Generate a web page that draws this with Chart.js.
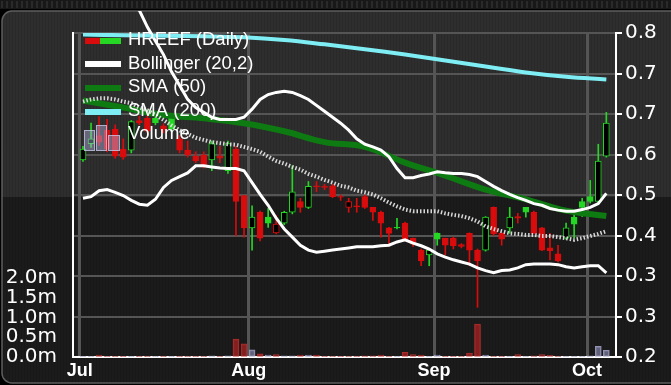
<!DOCTYPE html>
<html>
<head>
<meta charset="utf-8">
<script src="https://cdn.jsdelivr.net/npm/chart.js@4.4.1/dist/chart.umd.min.js"></script>
<style>
html,body{margin:0;padding:0;background:#000;overflow:hidden}
canvas{display:block}
</style>
</head>
<body>
<canvas id="c" width="671" height="385"></canvas>
<script>
// trading day index, month ticks
const monthLabels = ['Jul','Aug','Sep','Oct'];
const monthStarts = [0,21,44,63];
const priceTickValues = [0.2,0.275,0.35,0.425,0.5,0.575,0.65,0.725,0.8];
const priceTickLabels = ['0.2','0.3','0.3','0.4','0.5','0.6','0.7','0.7','0.8'];
const volTickValues = [0,0.5,1,1.5,2];
const volTickLabels = ['0.0m','0.5m','1.0m','1.5m','2.0m'];

// HREEF daily OHLC
const opens  = [.565,.595,.610,.620,.622,.585,.583,.638,.642,.642, .628,.644,.604,.583,.572,.574,.565,.572,.545,.585,
                .499,.439,.468,.459,.430,.448,.468,.488,.477,.517, .516,.517,.497,.477,.480,.497,.477,.468,.439,.440,
                .448,.420,.398,.389,.429,.420,.420,.408,.429,.398, .398,.477,.429,.439,.460,.477,.468,.439,.402,.391,
                .420,.459,.488,.497,.488,.572];
const highs  = [.590,.633,.645,.640,.630,.604,.638,.646,.646,.645, .632,.648,.610,.600,.580,.580,.600,.590,.600,.590,
                .500,.480,.470,.475,.462,.470,.554,.494,.525,.525, .520,.520,.500,.494,.494,.500,.477,.470,.440,.457,
                .450,.420,.400,.400,.430,.420,.422,.410,.430,.400, .460,.478,.430,.477,.466,.477,.470,.440,.429,.407,
                .448,.470,.494,.527,.594,.653];
const lows   = [.562,.588,.592,.580,.568,.566,.578,.630,.615,.630, .615,.618,.578,.570,.560,.550,.545,.560,.540,.424,
                .422,.398,.415,.440,.428,.445,.465,.468,.475,.506, .510,.495,.490,.468,.468,.475,.453,.422,.409,.437,
                .415,.405,.369,.369,.407,.389,.400,.402,.369,.292, .396,.425,.407,.429,.448,.459,.428,.397,.380,.376,
                .418,.420,.460,.485,.485,.570];
const closes = [.585,.604,.598,.585,.572,.570,.636,.634,.618,.634, .620,.622,.583,.574,.563,.556,.595,.568,.595,.488,
                .439,.459,.420,.448,.446,.468,.506,.477,.516,.515, .514,.497,.496,.488,.478,.477,.468,.448,.429,.439,
                .417,.409,.378,.398,.418,.407,.406,.405,.398,.378, .459,.428,.418,.459,.457,.468,.429,.398,.397,.378,
                .439,.446,.477,.488,.563,.633];
// volume in millions
const volumes = [.02,.02,.05,.02,.02,.02,.02,.02,.02,.02, .02,.02,.02,.02,.02,.02,.03,.02,.03,.45,
                 .33,.18,.08,.05,.06,.03,.03,.05,.05,.05, .02,.02,.02,.02,.02,.03,.03,.05,.02,.02,
                 .12,.06,.05,.02,.05,.01,.01,.01,.10,.83, .05,.02,.02,.02,.06,.02,.03,.06,.04,.02,
                 .02,.02,.02,.03,.27,.17];

// Bollinger (20,2)
const bollUpper = [.85,.86,.86,.85,.85,.85,.85,.842,.811,.785, .760,.728,.703,.677,.662,.653,.644,.640,.640,.640,
                   .644,.659,.677,.686,.690,.692,.690,.684,.677,.666, .655,.644,.633,.620,.604,.594,.589,.583,.571,.549,
                   .532,.532,.536,.539,.543,.541,.540,.540,.538,.534, .525,.516,.508,.501,.495,.490,.484,.481,.475,.472,
                   .470,.470,.473,.477,.484,.503];
const bollMid   = [.673,.677,.679,.679,.677,.673,.670,.662,.657,.648, .639,.629,.620,.613,.606,.602,.598,.596,.594,.593,
                   .589,.585,.580,.571,.563,.558,.552,.547,.539,.534, .528,.523,.517,.514,.508,.505,.501,.494,.486,.479,
                   .473,.470,.470,.470,.470,.466,.463,.461,.457,.451, .442,.437,.433,.429,.428,.426,.426,.424,.424,.422,
                   .420,.417,.420,.424,.428,.433];
const bollLower = [.494,.497,.508,.510,.505,.499,.490,.483,.481,.492, .514,.527,.534,.541,.554,.554,.552,.550,.549,.549,
                   .545,.523,.501,.481,.457,.437,.422,.407,.398,.394, .396,.398,.400,.402,.404,.404,.404,.406,.407,.413,
                   .417,.411,.406,.400,.391,.385,.380,.376,.372,.365, .360,.356,.360,.361,.365,.371,.372,.372,.372,.371,
                   .367,.365,.367,.369,.369,.356];
// moving averages, read every 5 days
const smaDays = [0,5,10,15,20,25,30,35,40,45,50,55,60,65];
const sma50   = [.675,.662,.648,.642,.633,.618,.598,.589,.560,.536,.510,.492,.471,.461];
const sma200  = [.797,.796,.795,.794,.792,.787,.779,.770,.760,.749,.738,.727,.719,.714];

const UP = '#25d625', DOWN = '#d80c0c';
const days = opens.map((_, i) => i);
const isUp = i => i === 0 || closes[i] >= closes[i-1];
const hollow = i => closes[i] > opens[i];

const bgPlugin = {
  id: 'bg',
  beforeDraw(chart){
    const ctx = chart.ctx, W = chart.width, H = chart.height;
    ctx.save();
    ctx.fillStyle = '#000'; ctx.fillRect(0,0,W,H);
    ctx.fillStyle = '#181818'; ctx.fillRect(0,0,W,9);
    ctx.fillStyle = '#2a2a2a';
    for(let x=1;x<W;x+=5) ctx.fillRect(x,1,2,7);
    ctx.beginPath(); ctx.roundRect(2,11,W+20,372,10);
    ctx.save(); ctx.clip();
    ctx.fillStyle = '#2e2e2e'; ctx.fillRect(0,11,W,186);
    ctx.fillStyle = '#1b1b1b'; ctx.fillRect(0,197,W,H-197);
    ctx.fillStyle = 'rgba(0,0,0,0.10)';
    for(let x=3;x<W;x+=3) ctx.fillRect(x,11,1,H);
    ctx.restore();
    ctx.strokeStyle = '#5e5e5e'; ctx.lineWidth = 1.5; ctx.stroke();
    ctx.restore();
  }
};

const legendPlugin = {
  id: 'legendBox',
  afterDraw(chart){
    const ctx = chart.ctx;
    const names = ['HREEF (Daily)','Bollinger (20,2)','SMA (50)','SMA (200)','Volume'];
    const ys = [40,63.5,87,110.5,134];
    ctx.save();
    ctx.fillStyle = DOWN; ctx.fillRect(85,38,15,6);
    ctx.fillStyle = UP; ctx.fillRect(100,38,21,6);
    ctx.fillStyle = '#fff'; ctx.fillRect(85,61,36,6);
    ctx.fillStyle = '#0e7a12'; ctx.fillRect(85,85,36,6);
    ctx.fillStyle = '#7eeef4'; ctx.fillRect(85,109,36,6);
    ctx.fillStyle = 'rgba(175,175,220,0.45)'; ctx.strokeStyle = 'rgba(205,205,240,0.7)'; ctx.lineWidth = 1;
    [[84,130,11,21],[96,125,11,26],[108,135,12,16]].forEach(b => { ctx.fillRect(...b); ctx.strokeRect(b[0]+.5,b[1]+.5,b[2]-1,b[3]-1); });
    ctx.fillStyle = '#fff';
    ctx.font = '18.5px "Liberation Sans", Arial, sans-serif';
    ctx.textBaseline = 'middle';
    names.forEach((n, k) => ctx.fillText(n, 128, ys[k]));
    ctx.restore();
  }
};

const line = (data, color, width, order, extra) => Object.assign({
  type: 'line', data, borderColor: color, borderWidth: width, pointRadius: 0,
  tension: 0, fill: false, yAxisID: 'y', order
}, extra || {});

new Chart(document.getElementById('c'), {
  type: 'bar',
  data: {
    datasets: [
      line(smaDays.map((d, k) => ({x: d, y: sma200[k]})), '#7eeef4', 4, 1, {tension: 0.4}),
      line(days.map(i => ({x: i, y: bollUpper[i]})), '#ffffff', 3, 2, {clip: {left: 0, top: 22, right: 0, bottom: 0}}),
      line(days.map(i => ({x: i, y: bollLower[i]})), '#ffffff', 3, 2),
      line(days.map(i => ({x: i, y: bollMid[i]})), 'rgba(225,225,225,0.95)', 4, 3, {borderDash: [1.5, 2]}),
      line(smaDays.map((d, k) => ({x: d, y: sma50[k]})), '#0e7a12', 6, 4, {tension: 0.4}),
      {
        type: 'bar', yAxisID: 'y', order: 6, grouped: false, barThickness: 6,
        data: days.map(i => ({x: i, y: [opens[i], closes[i]]})),
        backgroundColor: c => hollow(c.dataIndex) ? '#000' : (isUp(c.dataIndex) ? UP : DOWN),
        borderColor: c => isUp(c.dataIndex) ? UP : DOWN,
        borderWidth: 1, borderSkipped: false
      },
      {
        type: 'bar', yAxisID: 'y', order: 7, grouped: false, barThickness: 1,
        data: days.map(i => ({x: i, y: [lows[i], highs[i]]})),
        backgroundColor: c => isUp(c.dataIndex) ? UP : DOWN
      },
      {
        type: 'bar', yAxisID: 'vol', order: 8, grouped: false, barThickness: 6,
        data: days.map(i => ({x: i, y: volumes[i]})),
        backgroundColor: c => isUp(c.dataIndex) ? 'rgba(120,120,155,0.75)' : 'rgba(150,32,32,0.85)',
        borderColor: c => isUp(c.dataIndex) ? 'rgba(160,160,195,0.9)' : 'rgba(185,50,50,0.9)',
        borderWidth: 1, borderSkipped: false
      }
    ]
  },
  options: {
    responsive: false, animation: false, devicePixelRatio: 1,
    layout: {padding: {top: 33, left: 0, right: 0, bottom: 0}},
    plugins: {legend: {display: false}, tooltip: {enabled: false}},
    scales: {
      x: {
        type: 'linear', min: -1.24, max: 66.2, offset: false,
        afterBuildTicks: s => { s.ticks = monthStarts.map(d => ({value: d - 0.4})); },
        afterFit: s => { s.height = 24; },
        ticks: {autoSkip: false, maxRotation: 0, color: '#fff', padding: 3,
                font: {size: 18, weight: 'bold', family: '"Liberation Sans", Arial, sans-serif'},
                callback: (v, i) => monthLabels[i]},
        grid: {color: '#555', lineWidth: 3, drawTicks: false, offset: false},
        border: {color: '#fff', width: 2}
      },
      y: {
        type: 'linear', position: 'right', min: 0.2, max: 0.8,
        afterBuildTicks: s => { s.ticks = priceTickValues.map(v => ({value: v})); },
        afterFit: s => { s.width = 55; },
        ticks: {color: '#fff', padding: 3, font: {size: 20, family: '"DejaVu Sans", sans-serif'},
                callback: (v, i) => priceTickLabels[i]},
        grid: {color: '#555', lineWidth: 2, tickColor: '#fff', tickLength: 6, tickWidth: 2},
        border: {color: '#fff', width: 2}
      },
      vol: {
        type: 'linear', position: 'left', min: 0, max: 8.175,
        afterBuildTicks: s => { s.ticks = volTickValues.map(v => ({value: v})); },
        afterFit: s => { s.width = 73; },
        ticks: {color: '#fff', padding: 16, font: {size: 20, family: '"DejaVu Sans", sans-serif'},
                callback: (v, i) => volTickLabels[i]},
        grid: {drawOnChartArea: false, drawTicks: false},
        border: {color: '#fff', width: 2}
      }
    }
  },
  plugins: [bgPlugin, legendPlugin]
});
</script>
</body>
</html>
